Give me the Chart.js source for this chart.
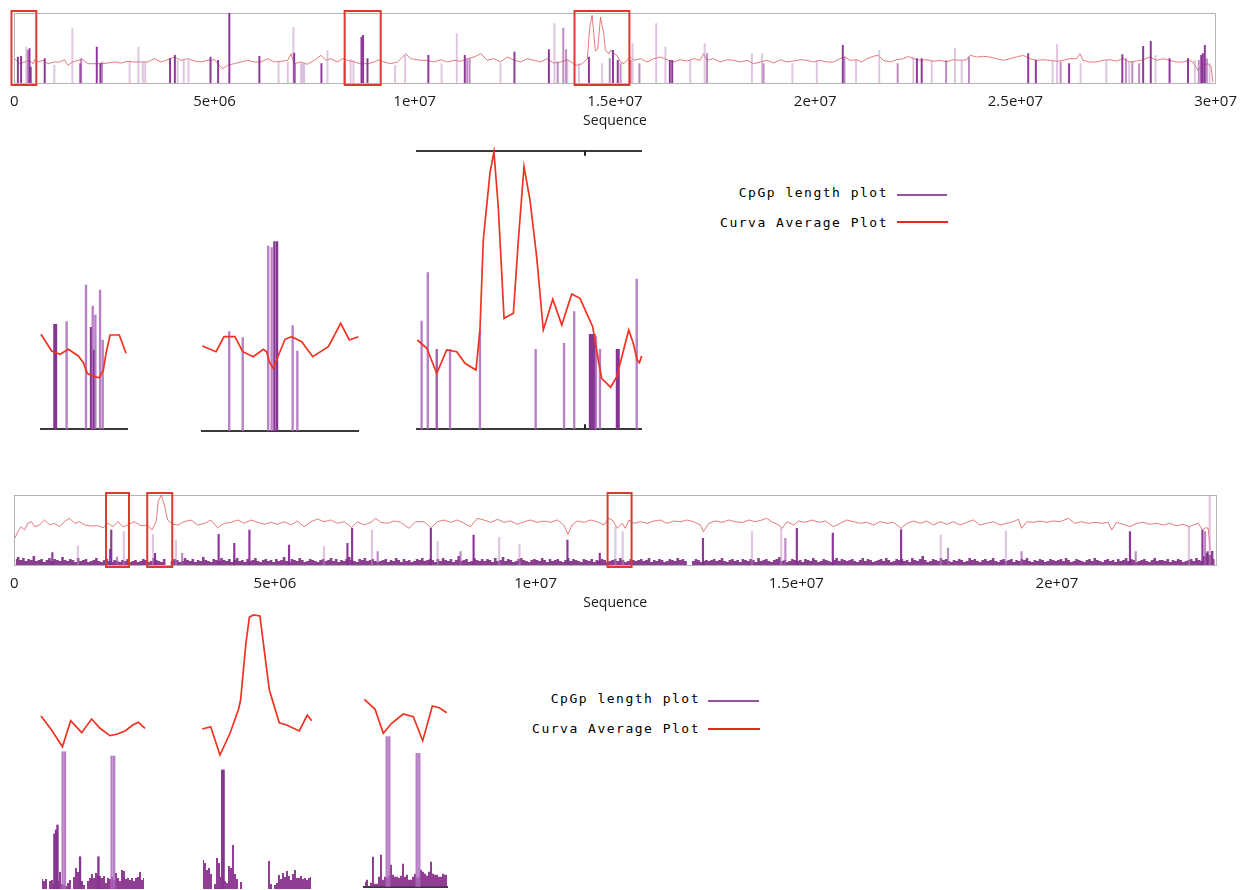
<!DOCTYPE html>
<html>
<head>
<meta charset="utf-8">
<title>CpGp length plot</title>
<script src="https://cdn.jsdelivr.net/npm/chart.js@4.4.1/dist/chart.umd.min.js"></script>
<style>
html,body{margin:0;padding:0;background:#fff;}
#page{position:relative;width:1247px;height:890px;overflow:hidden;background:#fff;}
#page canvas{position:absolute;}
.lg{position:absolute;font-family:"DejaVu Sans Mono",monospace;font-size:13px;letter-spacing:1.5px;color:#000;white-space:nowrap;text-align:right;line-height:16px;height:16px;}
.ln{position:absolute;height:2px;}
</style>
</head>
<body>
<div id="page">
<canvas id="topChart" width="1247" height="140" style="left:0;top:0;width:1247px;height:140px"></canvas>
<canvas id="midChart" width="1247" height="140" style="left:0;top:480px;width:1247px;height:140px"></canvas>
<div class="lg" style="left:600px;top:185px;width:288px">CpGp length plot</div>
<div class="ln" style="left:897px;top:194px;width:50px;background:#9b50a8"></div>
<div class="lg" style="left:600px;top:215px;width:288px">Curva Average Plot</div>
<div class="ln" style="left:897px;top:221px;width:51px;background:#e52a1c"></div>
<div class="lg" style="left:420px;top:691px;width:280px">CpGp length plot</div>
<div class="ln" style="left:708px;top:700px;width:51px;background:#9b50a8"></div>
<div class="lg" style="left:420px;top:721px;width:280px">Curva Average Plot</div>
<div class="ln" style="left:708px;top:728px;width:52px;background:#e52a1c"></div>
</div>
<script>
// ================= DATA =================
// Chromosome-wide overview 1 (positions in Mb)
const topLineMb = [0.01,0.13,0.26,0.38,0.47,0.51,0.59,0.72,0.84,1.00,1.13,1.25,1.34,1.46,1.59,1.71,1.84,2.00,2.17,2.34,2.50,2.67,2.84,3.00,3.17,3.33,3.50,3.67,3.83,4.00,4.16,4.33,4.50,4.66,4.83,5.00,5.12,5.20,5.33,5.49,5.66,5.83,5.99,6.16,6.33,6.49,6.66,6.83,6.91,6.99,7.16,7.32,7.49,7.66,7.78,7.91,8.07,8.20,8.32,8.49,8.65,8.82,8.99,9.11,9.23,9.40,9.57,9.78,9.90,10.15,
10.32,10.48,10.65,10.82,10.98,11.15,11.31,11.48,11.65,11.81,11.98,12.14,12.31,12.48,12.64,12.81,12.98,13.14,13.31,13.47,13.64,13.81,13.97,14.06,14.18,14.31,14.37,14.43,14.51,14.57,14.64,14.72,14.76,14.85,14.89,14.97,15.05,15.14,15.22,15.30,15.39,15.47,15.64,15.80,15.97,16.13,16.30,16.47,16.63,16.80,16.97,17.13,17.21,17.30,17.46,17.63,17.80,17.96,18.13,18.30,18.46,18.63,18.80,18.96,19.13,19.29,19.46,19.63,19.79,19.96,
20.12,20.29,20.46,20.62,20.75,20.87,21.04,21.16,21.29,21.45,21.58,21.70,21.87,22.04,22.20,22.33,22.45,22.62,22.79,22.95,23.12,23.28,23.45,23.62,23.78,23.87,24.03,24.20,24.36,24.53,24.70,24.86,25.03,25.20,25.36,25.53,25.69,25.86,26.03,26.19,26.36,26.53,26.61,26.69,26.86,27.03,27.19,27.36,27.52,27.69,27.86,28.02,28.19,28.35,28.52,28.69,28.85,29.02,29.18,29.35,29.43,29.56,29.68,29.81,29.89,29.93];
const topLineVal = [24.3,19.3,21,22.7,19.3,23.3,21,22.7,19.3,21,21,23.3,17.7,21,22.7,23.3,19.3,19.3,19.3,20,21,20,21.7,21,21,21,24.3,21,23.3,26,22.7,24.3,22,21,22.7,23.3,17.7,14.3,17.7,19.3,21,22.7,21,21,24.3,21,21.7,22.7,29.3,19.3,21,18.7,22.7,27.7,22.7,24.3,21,24.3,22.7,21,19.3,19.3,21,23.3,21,19.3,21,29.3,24.3,22.7,
22.7,21,23.3,21,22.7,21.7,24.3,26,29.3,22.7,24.3,21,26,22.7,21,24.3,22.7,21,24.3,20,21,23.3,19.3,17.7,19.3,24.3,56,67.7,32,34,66,49.3,32.7,29.3,32.7,29.3,27.7,21,19.3,22.7,26,22.7,24.3,21,24.3,26,23.3,21,23.3,22,24.3,22.7,29.3,22.7,24.3,21,23.3,22.7,21,22.7,19.3,21,22.7,20,23.3,21,22,23.3,22.7,21,
22.7,21,21,24.3,26,22.7,23.3,21,24.3,26.7,27.7,22.7,21,23.3,24.3,26.7,24.3,22.7,23.3,21.7,22.7,21,23.3,22.7,23.3,27.7,26,26.7,26,24.3,22.7,24.3,26,27.7,24.3,22.7,23.3,22.7,21.7,22.7,24.3,24.3,29.3,22.7,21,21,22.7,23.3,22,24.3,21,22,23.3,26,22.7,24.3,22.7,21,21,22.7,21,12.7,17.7,19.3,16,1];
const topBarMb = [0.09,0.17,0.30,0.34,0.38,0.41,0.76,1.00,1.45,1.65,1.67,2.06,2.15,2.19,2.88,3.10,3.21,3.27,3.89,4.01,4.08,4.23,4.35,4.90,5.09,5.37,6.12,6.60,6.83,6.97,6.99,7.01,7.16,7.20,7.24,7.67,7.82,8.25,8.40,8.47,8.67,8.71,8.82,9.51,9.76,
10.34,10.67,11.05,11.25,11.31,11.37,12.14,12.49,13.35,13.49,13.57,13.71,13.78,13.81,14.10,14.35,14.68,14.87,14.95,15.07,15.14,15.39,15.44,15.61,16.03,16.26,16.37,16.43,16.88,17.24,17.30,18.42,18.67,18.71,19.43,20.04,
20.69,20.73,21.02,21.60,22.06,22.45,22.54,22.66,22.91,23.27,23.49,23.66,23.84,25.32,25.51,25.93,26.04,26.13,26.34,26.63,27.27,27.67,27.76,27.84,27.92,28.09,28.19,28.38,28.50,28.85,29.31,29.48,29.58,29.64,29.68,29.73,29.78,29.85];
const topBarVal = [26,26.7,36,32.7,34.4,16,24.4,17.7,54.4,19.4,24.4,36,19.4,21,21,36,21,21,24.4,27.7,22.7,22.7,22.7,26,22.7,70,26.7,21,21,55.4,30,19.4,19.4,19.4,19.4,19.4,32.7,21,23.4,22.7,46,47.7,24.4,17.7,27.7,
27.7,19.4,49.4,27.7,23.4,24.4,19.4,31,33.4,59.4,21,55,33.4,22.7,19.4,26,19.4,24.4,32.7,22.7,19.4,22.7,39.4,19.4,59.4,36,22.7,22.7,22.7,39.4,29.4,29.4,29.4,19.4,19.4,22.7,
37.7,26,22.7,32.7,19.4,26,24.4,24.4,22.7,22.7,35,22.7,26,29.4,22.7,22.7,38.4,21,19.4,19.4,22.7,28.4,24.4,21,21,19.4,36.7,41.7,27.7,24.4,24.4,22.7,22.7,27.7,29.4,37.7,24.4,19.4];
const topBarDensity = [1,1,0,0.5,1,1,1,0,0,1,0.5,1,1,0.5,0,0,0,0,1,1,0,0,0,1,1,1,1,0,0,0,1,0.5,0,0,0,1,0,0.5,0,0,1,1,1,0,0,
1,0,0,1,0.5,0.5,0,1,1,0,0.5,0.5,0.5,0,0,1,0,0.5,1,1,0.5,0.5,0,0.5,0,0,1,1,0,0,0.5,0,0,0.5,0,0,
1,0.5,0,0,0.5,0,1,1,0,0.5,0,0,0.5,1,1,0,0,0.5,1,0,0,1,0.5,0,0.5,0.5,1,1,0,1,1,0,0.5,1,1,1,0.5,0];
const topBoxesMb = [[-0.07,0.55],[8.25,9.15],[13.99,15.36]];
const topInsetWindowsMb = [[0,0.5504],[8.25,9.15],[13.99,15.34]];

// Chromosome-wide overview 2 (positions in Mb)
const midLineMb = [0.01,0.07,0.13,0.20,0.26,0.33,0.39,0.48,0.58,0.68,0.77,0.87,0.96,1.06,1.16,1.25,1.35,1.48,1.60,1.70,1.80,1.89,1.99,2.08,2.18,2.30,2.43,2.56,2.64,2.72,2.76,2.82,2.88,2.94,3.04,3.14,3.26,3.39,3.52,3.65,3.77,3.90,4.03,4.16,4.29,4.41,4.54,4.67,4.80,4.92,5.05,5.18,5.31,5.43,5.56,5.69,5.82,5.94,6.07,6.20,6.33,6.47,6.58,6.71,6.84,6.93,7.03,7.16,7.29,7.41,7.57,7.70,
7.86,7.99,8.12,8.24,8.37,8.50,8.63,8.75,8.88,9.01,9.14,9.27,9.39,9.52,9.65,9.78,9.90,10.03,10.16,10.29,10.42,10.54,10.62,10.70,10.80,10.93,11.05,11.18,11.31,11.40,11.47,11.57,11.66,11.72,11.79,11.88,12.01,12.14,12.27,12.39,12.52,12.65,12.78,12.91,13.03,13.16,13.22,13.32,13.45,13.58,13.70,13.83,13.96,14.09,14.21,14.34,14.43,14.53,14.66,14.73,14.82,14.95,15.04,15.17,15.30,15.43,15.56,
15.71,15.84,15.97,16.10,16.23,16.35,16.48,16.61,16.74,16.86,17.01,17.12,17.25,17.38,17.50,17.63,17.76,17.89,18.01,18.14,18.27,18.40,18.52,18.65,18.78,18.91,19.04,19.16,19.26,19.32,19.42,19.55,19.67,19.80,19.93,20.06,20.22,20.34,20.47,20.60,20.73,20.86,20.98,21.05,21.14,21.27,21.40,21.53,21.65,21.78,21.91,22.04,22.16,22.29,22.42,22.54,22.61,22.71,22.79,22.85,22.90,22.94];
const midLineVal = [26.7,33.3,38.3,35,41.7,43.3,38.3,40,45,40,41.7,38.3,43.3,46.7,41.7,43.3,40,39,39.3,37.3,41.7,38.3,43.3,38.3,40,43.3,39.3,40,35,43.3,63.3,70,60,45,40.7,40,43.3,45,40,41.7,45,37.3,41.7,42.7,45,41.7,45,42.7,40.7,42.7,40.7,43.3,40,44,38.3,43.3,46,43.3,45,41.7,43.3,37.3,43.3,40,42.7,46.7,42.7,41.7,44,42.7,36.7,43.3,
43.3,37.3,43.3,45,42.7,45,41.7,38.3,46.7,45,42.7,45.7,42.7,44,40.7,43.3,45,42.7,44,42.7,45,40,30.7,40,44,42.7,45,43.3,40,46.7,45,36.7,41.7,36.7,45,41.7,43.3,41.7,44,45,41.7,44,43.3,45,43.3,40,33.3,41.7,44,42.7,45,43.3,42.3,45,43.3,45,46.7,43.3,40,36.7,43.3,40,44,42.7,45,42.7,44,
38.3,41.7,45,43.3,41.7,42.7,40,43.3,41.7,42.7,36.7,41.7,44,41.7,44,40,43.3,40.7,43.3,40,42.7,45,40,41.7,43.3,40,41.7,43.3,45.7,36.7,43.3,42.7,44,42.7,44,43.3,46.7,41.7,43.3,41.7,42.7,41.7,42.7,35,42.7,40.7,38.3,41.7,42.7,40.7,41.7,40,41.7,39.3,40.7,38.3,40,41.7,35,37.3,36.7,15];
const midBarMb = [0.73,1.22,1.84,1.86,1.97,2.10,2.66,2.70,3.10,3.22,3.92,4.22,4.51,5.27,5.94,6.39,6.48,6.86,6.97,7.99,8.12,8.56,8.81,9.30,9.69,10.61,11.23,11.53,11.67,13.21,14.15,14.71,14.79,15.01,15.70,17.01,17.77,17.91,19.02,19.32,21.40,21.51,22.53,22.79,22.84,22.89,22.93];
const midBarVal = [12.3,19,16,35,8,33.3,30.7,11.7,25,11.7,30.7,21.7,35,20,18.3,21.7,36.7,35,13.3,36.7,23.3,13.3,30,27.7,21,25,12,38.3,33.3,26.7,33.3,36.7,26.7,36.7,32,35.3,30,17,34,13.3,33.3,13.3,38.3,35,33.3,13.3,70];
const midBarDensity = [1,0,1,1,0.5,0,0,1,0,0.5,1,1,1,1,0,1,1,0,0.5,1,0,0.5,1,0,0,1,1,0,0,1,0,0,0.5,1,1,1,0,0.5,0,0.5,1,0.5,0,1,0.5,1,0];
const midGrassBinMb = 0.05;
const midGrass = [6,8,5,7,4,6,5,9,4,5,6,3,5,7,4,6,5,4,8,5, 4,6,5,3,7,4,5,6,3,4,5,7,4,3,5,6,4,3,5,4, 3,5,4,6,3,4,5,3,4,6,5,3,4,7,5,4,3,6,0,0, 4,6,5,3,4,7,5,4,6,3,5,4,8,5,4,3,6,5,4,7,
5,4,6,3,5,7,4,5,3,6,4,5,7,4,3,5,6,4,5,3, 6,4,5,8,4,3,6,5,4,7,5,3,4,6,5,4,3,5,6,4, 5,7,4,6,3,5,4,6,8,5,4,3,6,5,7,4,5,6,4,3, 4,5,6,3,5,4,7,5,3,6,4,5,3,4,6,5,7,4,5,6,
5,3,6,4,7,5,4,6,3,5,9,4,5,6,3,4,7,5,4,6, 4,6,5,3,7,4,5,8,4,6,5,3,4,6,7,5,4,3,5,6, 5,4,7,5,3,6,4,5,6,4,3,5,7,4,6,5,4,3,6,5, 4,6,3,5,4,6,5,3,4,5,6,4,7,5,3,4,6,5,4,5,
6,4,5,7,3,5,4,6,5,3,4,6,5,4,7,5,6,4,0,0, 4,6,5,3,4,5,4,5,6,4,5,7,4,3,5,6,4,5,3,6, 5,4,6,5,3,7,4,5,6,4,3,5,6,8,4,5,3,4,6,5, 4,5,3,6,5,4,7,5,3,4,6,5,4,3,5,7,4,6,5,4,
5,6,4,3,5,7,4,6,5,3,4,5,6,4,7,5,3,4,6,5, 6,4,5,3,7,5,4,6,9,5,3,4,6,5,4,7,5,6,4,3, 5,4,6,5,3,4,7,5,6,4,3,5,6,4,5,7,4,3,5,6, 4,5,6,3,5,4,6,5,7,4,3,5,4,6,5,3,4,6,5,4,
5,6,4,7,5,3,4,6,5,4,3,5,6,4,7,5,4,3,5,6, 4,5,3,6,4,5,7,4,6,5,3,4,5,6,4,3,5,7,4,5, 5,4,6,3,5,4,6,5,3,4,5,6,4,7,5,4,9,12,10,14, 6];
const midBoxesMb = [[1.76,2.20],[2.55,3.03],[11.38,11.84]];
const midInsetWindowsMb = [[1.76,2.202],[2.55,3.0285],[11.38,11.8365]];

// Zoomed windows, overview 1
const in1LineMb = [0.000,0.068,0.122,0.175,0.239,0.271,0.296,0.324,0.373,0.399,0.416,0.442,0.501,0.544];
const in1LineVal = [95,78.3,75,80,73.3,66.6,56,53.6,51.6,59.3,76,94.3,94.3,76];
const in1BarMb = [0.086,0.096,0.164,0.288,0.320,0.331,0.339,0.348,0.378,0.395];
const in1BarVal = [105,105,107.6,144.3,102,123.3,79.3,114.3,139.3,89.3];
const in1BarDensity = [1,1,0,0,1,0,1,0,0,0];

const in2LineMb = [8.252,8.331,8.377,8.440,8.485,8.546,8.604,8.623,8.638,8.661,8.696,8.729,8.767,8.825,8.889,8.979,9.050,9.100,9.152];
const in2LineVal = [85,79.3,94.3,94.3,79.3,74.3,81.7,79.3,69.3,62.7,77.7,91.7,94.3,89.3,74.3,84.3,107.7,91,94.3];
const in2BarMb = [8.407,8.485,8.632,8.652,8.668,8.683,8.773,8.800];
const in2BarVal = [99.3,93.3,185,183.3,189.3,189.3,105.3,80];
const in2BarDensity = [0,0,0,0,1,1,0,0];

const in3LineMb = [13.990,14.047,14.107,14.167,14.227,14.277,14.343,14.367,14.387,14.427,14.451,14.477,14.512,14.568,14.598,14.632,14.668,14.708,14.748,14.805,14.859,14.919,14.969,15.009,15.045,15.079,15.099,15.153,15.190,15.226,15.262,15.289,15.313,15.326,15.340];
const in3LineVal = [89.3,81,56,79.3,77.6,66,59.3,99.3,189.3,256,277.6,222.6,111,116,189.3,262.6,229.3,172.6,99.3,130,104.3,135.3,131,116,102.6,69.3,51,42,52.6,76,99.3,86,69.3,66.6,73.3];
const in3BarMb = [14.016,14.053,14.107,14.187,14.367,14.702,14.873,14.934,15.029,15.038,15.047,15.056,15.065,15.089,15.191,15.201,15.310];
const in3BarVal = [108.3,156.6,80,80,99.3,80,86,117.6,95,95,95,95,92.6,80,80,80,150.3];
const in3BarDensity = [0,0,0.5,0,0,0,0,0,1,1,1,1,0,0,1,1,0];
const in3TickMb = [15];

// Zoomed windows, overview 2
const in4LineMb = [1.760,1.805,1.851,1.886,1.933,1.975,2.011,2.053,2.082,2.117,2.150,2.174,2.202];
const in4LineVal = [173,159,142.3,168.3,156.3,170,160.7,153.3,154.7,158,164,166.7,160.7];
const in4BarMb = [1.817,1.824,1.830,1.852,1.862,1.926,2.004,2.060,2.071];
const in4BarVal = [55,59,64,137.3,137.3,32.3,32.3,133,133];
const in4BarDensity = [1,1,1,0,0,1,1,0,0];
const in4GrassBinMb = 0.0085;
const in4Grass = [10,8,10,0,8,9,5,6,8,17,5,4,3,6,9,0,12,21,17,10,8,4,0,8,11,15,11,16,14,13,11,13,6,11,10,12,9,16,11,8,19,18,10,11,9,11,8,11,12,17,9,11];

const in5LineMb = [2.551,2.588,2.628,2.672,2.708,2.718,2.741,2.756,2.773,2.802,2.817,2.843,2.886,2.918,2.973,3.008,3.027];
const in5LineVal = [160,162.3,134,155.7,179,189,245.7,271.7,274,273,245.7,199,166.3,164,158,174,168.3];
const in5BarMb = [2.638,2.644];
const in5BarVal = [119,119];
const in5BarDensity = [1,1];
const in5GrassBinMb = 0.0087;
const in5Grass = [29,26,19,21,15,0,5,31,26,12,10,8,6,23,21,44,15,10,0,7,0,0,0,0,0,0,0,0,0,0,0,0,0,28,5,0,4,6,14,10,16,12,18,13,9,15,19,11,11,13,10,11,9,11,12];

const in6LineMb = [11.382,11.441,11.486,11.532,11.596,11.651,11.703,11.756,11.794,11.835];
const in6LineVal = [187.4,177.4,153.4,163.4,172.7,170,146,180.7,179,174];
const in6BarMb = [11.505,11.519,11.670,11.684];
const in6BarVal = [150,150,133.4,133.4];
const in6BarDensity = [0,0,0,0];
const in6GrassBinMb = 0.011;
const in6Grass = [5,7,0,4,30,3,3,10,32,7,10,9,11,22,12,10,10,9,11,23,10,12,7,7,10,13,9,10,17,15,13,11,15,25,13,12,12,10,10,13,12,12];

// ================= DRAWING =================
Chart.defaults.font.family = '"Open Sans","DejaVu Sans",sans-serif';
const page = document.getElementById('page');
const pts = (xs, ys) => xs.map((x, i) => ({x, y: ys[i]}));
const binPts = (start, bin, ys) => ys.map((y, i) => ({x: start + (i + 0.5) * bin, y}));

function fmtSci(v) {
  if (v === 0) return '0';
  const n = v * 1e6;
  const e = Math.floor(Math.log10(n) + 1e-9);
  const m = +(n / Math.pow(10, e)).toPrecision(4);
  return m + 'e+' + String(e).padStart(2, '0');
}
function overviewBarColor(s) {
  const r = Math.round(192 - 57 * s), g = Math.round(140 - 95 * s), b = Math.round(196 - 50 * s);
  return `rgba(${r},${g},${b},${(0.5 + 0.45 * s).toFixed(2)})`;
}
function insetBarColor(s) {
  const r = Math.round(172 - 38 * s), g = Math.round(104 - 52 * s), b = Math.round(188 - 42 * s);
  return `rgba(${r},${g},${b},${(0.85 + 0.15 * s).toFixed(2)})`;
}

const framePlugin = {
  id: 'frame',
  beforeDatasetsDraw(chart) {
    const {ctx, chartArea: a} = chart;
    ctx.save();
    ctx.strokeStyle = '#b4b4b4';
    ctx.lineWidth = 1;
    ctx.strokeRect(Math.round(a.left) + 0.5, Math.round(a.top) + 0.5, Math.round(a.right - a.left), Math.round(a.bottom - a.top));
    ctx.restore();
  }
};
const boxPlugin = {
  id: 'zoomBoxes',
  afterDraw(chart, args, opts) {
    if (!opts.ranges) return;
    const {ctx, chartArea: a, scales: {x}} = chart;
    ctx.save();
    ctx.strokeStyle = '#dc3a2e';
    ctx.lineWidth = 2;
    for (const [s, e] of opts.ranges) {
      const x0 = x.getPixelForValue(s), x1 = x.getPixelForValue(e);
      ctx.strokeRect(x0, a.top - 2, x1 - x0, a.bottom - a.top + 4);
    }
    ctx.restore();
  }
};
const innerTickPlugin = {
  id: 'innerTicks',
  afterDraw(chart, args, opts) {
    if (!opts.values) return;
    const {ctx, chartArea: a, scales: {x}} = chart;
    ctx.save();
    ctx.strokeStyle = '#222';
    ctx.lineWidth = 2;
    for (const v of opts.values) {
      const px = Math.round(x.getPixelForValue(v));
      ctx.beginPath();
      ctx.moveTo(px, a.top); ctx.lineTo(px, a.top + 5);
      ctx.moveTo(px, a.bottom); ctx.lineTo(px, a.bottom - 5);
      ctx.stroke();
    }
    ctx.restore();
  }
};

function makeOverview(id, o) {
  const datasets = [];
  if (o.grass) {
    datasets.push({type: 'line', data: o.grass, stepped: 'middle', fill: 'origin',
      backgroundColor: 'rgba(122,38,128,0.88)', borderColor: 'rgba(0,0,0,0)', borderWidth: 0,
      pointRadius: 0, order: 3});
  }
  datasets.push({type: 'bar', data: o.bars, backgroundColor: c => overviewBarColor(o.density[c.dataIndex]),
    barThickness: o.barW, grouped: false, borderWidth: 0, order: 1});
  datasets.push({type: 'line', data: o.line, borderColor: 'rgba(222,72,72,0.72)', borderWidth: 1,
    pointRadius: 0, tension: 0, fill: false, order: 2});
  return new Chart(document.getElementById(id), {
    type: 'bar',
    data: {datasets},
    options: {
      responsive: false, animation: false, devicePixelRatio: 1, events: [],
      layout: {padding: o.padding},
      plugins: {legend: {display: false}, tooltip: {enabled: false}, zoomBoxes: {ranges: o.boxes}},
      scales: {
        x: {type: 'linear', min: 0, max: o.max, offset: false,
          grid: {display: false, drawTicks: false}, border: {display: false},
          ticks: {stepSize: 5, includeBounds: false, autoSkip: false, maxRotation: 0, padding: 10,
            color: '#1a1a1a', font: {size: 15}, callback: v => fmtSci(v)},
          title: {display: true, text: 'Sequence', color: '#1a1a1a', font: {size: 14}, padding: {top: 0, bottom: 0}},
          afterFit: s => { s.height = 46.4; }},
        y: {display: false, min: 0, max: 70}
      }
    },
    plugins: [framePlugin, boxPlugin]
  });
}

makeOverview('topChart', {
  max: 30, padding: {left: 12, right: 31, top: 13, bottom: 10.6},
  line: pts(topLineMb, topLineVal), bars: pts(topBarMb, topBarVal), density: topBarDensity,
  barW: 1.3, boxes: topBoxesMb
});
makeOverview('midChart', {
  max: 23.05, padding: {left: 13, right: 31, top: 15, bottom: 8.6},
  line: pts(midLineMb, midLineVal), bars: pts(midBarMb, midBarVal), density: midBarDensity,
  grass: binPts(0, midGrassBinMb, midGrass), barW: 1.5, boxes: midBoxesMb
});

function makeInset(o) {
  const c = document.createElement('canvas');
  const left = Math.floor(o.L) - 6, top = o.rowTop;
  const w = Math.ceil(o.R - left + 6), h = Math.ceil(o.base - top + 6);
  c.width = w; c.height = h;
  c.style.left = left + 'px'; c.style.top = top + 'px';
  c.style.width = w + 'px'; c.style.height = h + 'px';
  page.appendChild(c);
  const padding = {left: o.L - left, right: w - (o.R - left), top: o.areaTop - top, bottom: h - (o.base - top)};
  const datasets = [];
  if (o.grass) {
    datasets.push({type: 'line', data: o.grass, stepped: 'middle', fill: 'origin',
      backgroundColor: 'rgba(138,52,142,0.95)', borderColor: 'rgba(0,0,0,0)', borderWidth: 0,
      pointRadius: 0, order: 2});
  }
  datasets.push({type: 'bar', data: o.bars, backgroundColor: ctx => insetBarColor(o.density[ctx.dataIndex]),
    barThickness: 1.7, grouped: false, borderWidth: 0, order: 1});
  datasets.push({type: 'line', data: o.line, borderColor: '#ef3320', borderWidth: 1.7,
    pointRadius: 0, tension: 0, fill: false, clip: false, order: 0});
  const axisX = (pos, show) => ({type: 'linear', position: pos, min: o.win[0], max: o.win[1], offset: false,
    ticks: {display: false}, grid: {display: false, drawTicks: false},
    border: {display: show, color: '#3a3a3a', width: 2}, afterFit: s => { s.height = 0; }});
  const scales = {x: axisX('bottom', o.axis), y: {display: false, min: 0, max: o.base - o.areaTop}};
  if (o.topAxis) scales.xt = axisX('top', true);
  return new Chart(c, {
    type: 'bar', data: {datasets},
    options: {responsive: false, animation: false, devicePixelRatio: 1, events: [],
      layout: {padding},
      plugins: {legend: {display: false}, tooltip: {enabled: false}, innerTicks: {values: o.ticks}},
      scales},
    plugins: [innerTickPlugin]
  });
}

makeInset({L: 41, R: 127, rowTop: 140, areaTop: 150.5, base: 429.3, axis: true, win: topInsetWindowsMb[0],
  line: pts(in1LineMb, in1LineVal), bars: pts(in1BarMb, in1BarVal), density: in1BarDensity});
makeInset({L: 202, R: 358, rowTop: 140, areaTop: 150.5, base: 431, axis: true, win: topInsetWindowsMb[1],
  line: pts(in2LineMb, in2LineVal), bars: pts(in2BarMb, in2BarVal), density: in2BarDensity});
makeInset({L: 417.3, R: 641.7, rowTop: 140, areaTop: 150.7, base: 429.3, axis: true, topAxis: true, ticks: in3TickMb,
  win: topInsetWindowsMb[2],
  line: pts(in3LineMb, in3LineVal), bars: pts(in3BarMb, in3BarVal), density: in3BarDensity});
makeInset({L: 41, R: 145, rowTop: 600, areaTop: 615, base: 889, axis: false, win: midInsetWindowsMb[0],
  line: pts(in4LineMb, in4LineVal), bars: pts(in4BarMb, in4BarVal), density: in4BarDensity,
  grass: binPts(midInsetWindowsMb[0][0], in4GrassBinMb, in4Grass)});
makeInset({L: 202, R: 312, rowTop: 600, areaTop: 615, base: 889, axis: false, win: midInsetWindowsMb[1],
  line: pts(in5LineMb, in5LineVal), bars: pts(in5BarMb, in5BarVal), density: in5BarDensity,
  grass: binPts(midInsetWindowsMb[1][0], in5GrassBinMb, in5Grass)});
makeInset({L: 364, R: 447, rowTop: 600, areaTop: 615, base: 886.7, axis: true, win: midInsetWindowsMb[2],
  line: pts(in6LineMb, in6LineVal), bars: pts(in6BarMb, in6BarVal), density: in6BarDensity,
  grass: binPts(midInsetWindowsMb[2][0], in6GrassBinMb, in6Grass)});
</script>
</body>
</html>
